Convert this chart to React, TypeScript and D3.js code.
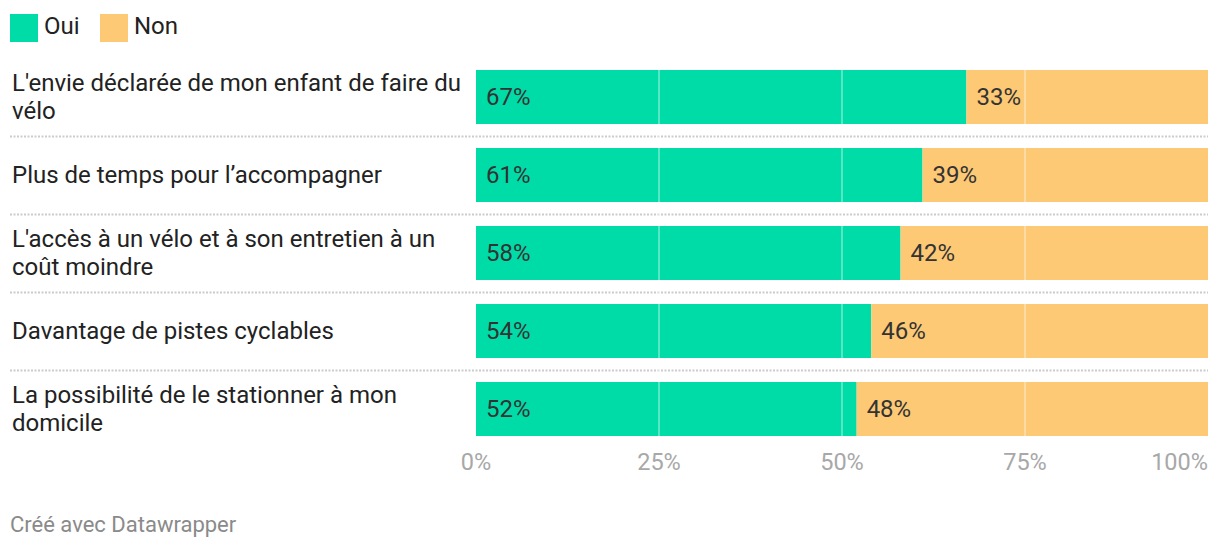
import React from "react";
import * as d3 from "d3";

const categories: string[] = [
  "L'envie déclarée de mon enfant de faire du vélo",
  "Plus de temps pour l’accompagner",
  "L'accès à un vélo et à son entretien à un coût moindre",
  "Davantage de pistes cyclables",
  "La possibilité de le stationner à mon domicile",
];
const oui: number[] = [67, 61, 58, 54, 52];
const non: number[] = [33, 39, 42, 46, 48];
const seriesNames: string[] = ["Oui", "Non"];
const seriesColors: string[] = ["#00dca8", "#fdc975"];
const ticks: number[] = [0, 25, 50, 75, 100];

const W = 1220;
const H = 548;
const FONT = "Roboto, 'Noto Sans', sans-serif";

function wrap(text: string, maxW: number, font: string): string[] {
  const c = document.createElement("canvas").getContext("2d")!;
  c.font = font;
  const words = text.split(" ");
  const lines: string[] = [];
  let cur = "";
  for (const w of words) {
    const t = cur ? cur + " " + w : w;
    if (c.measureText(t).width > maxW && cur) {
      lines.push(cur);
      cur = w;
    } else cur = t;
  }
  if (cur) lines.push(cur);
  return lines;
}

export default function App() {
  const x = d3.scaleLinear().domain([0, 100]).range([476, 1208]);
  const y = d3.scaleBand().domain(categories).range([70, 436]).paddingInner(24 / 78).paddingOuter(0);
  const bw = y.bandwidth();
  const lh = 28;

  return (
    <div style={{ position: "absolute", left: 0, top: 0, width: W, height: H, background: "#fff" }}>
      <svg width={W} height={H} style={{ display: "block", fontFamily: FONT }}>
        {/* legend */}
        {seriesNames.map((s, i) => (
          <g key={s} transform={`translate(${[10, 100][i]},14)`}>
            <rect width={28} height={28} fill={seriesColors[i]} />
            <text x={34} y={12} dy="0.35em" fontSize={24} fill="#222">{s}</text>
          </g>
        ))}
        {categories.map((c, i) => {
          const y0 = y(c)!;
          const cy = y0 + bw / 2;
          const lines = wrap(c, 455, `24px ${FONT}`);
          const start = cy - ((lines.length - 1) * lh) / 2;
          return (
            <g key={c}>
              <text fontSize={24} fill="#222">
                {lines.map((l, j) => (
                  <tspan key={j} x={12} y={start + j * lh} dy="0.35em">{l}</tspan>
                ))}
              </text>
              <rect x={x(0)} y={y0} width={x(oui[i]) - x(0)} height={bw} fill={seriesColors[0]} />
              <rect x={x(oui[i])} y={y0} width={x(100) - x(oui[i])} height={bw} fill={seriesColors[1]} />
              <text x={x(0) + 10} y={cy} dy="0.35em" fontSize={24} fill="#333">{oui[i]}%</text>
              <text x={x(oui[i]) + 10} y={cy} dy="0.35em" fontSize={24} fill="#333">{non[i]}%</text>
              {i < categories.length - 1 && (
                <line x1={10} x2={1208} y1={y0 + bw + 12.5} y2={y0 + bw + 12.5} stroke="#cccccc" strokeWidth={2} strokeDasharray="2,1.5" />
              )}
            </g>
          );
        })}
        {/* gridlines over bars */}
        {ticks.slice(1, -1).map((t) => (
          <line key={t} x1={x(t)} x2={x(t)} y1={70} y2={436} stroke="#ffffff" strokeOpacity={0.45} strokeWidth={1.5} />
        ))}
        {ticks.map((t, i) => (
          <text key={t} x={x(t)} y={462} dy="0.35em" fontSize={23.5} fill="#a8a8a8"
            textAnchor={i === ticks.length - 1 ? "end" : "middle"}>{t}%</text>
        ))}
        <text x={10} y={524} dy="0.35em" fontSize={22} fill="#8a8a8a">Créé avec Datawrapper</text>
      </svg>
    </div>
  );
}
